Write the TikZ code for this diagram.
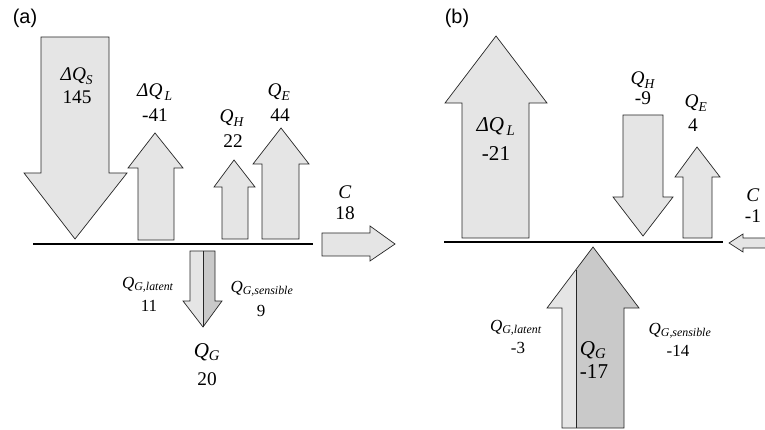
\documentclass[tikz,border=0pt]{standalone}
\usepackage{fontspec}
\setmainfont{Liberation Serif}
\newfontfamily\panelfont{Liberation Sans}
\newcommand\fluxsym[2]{\textit{#1}\textsubscript{\textit{#2}}}

\begin{document}
\begin{tikzpicture}[x=0.03cm, y=-0.03cm,
    flux/.style={draw=black!85, line width=0.6pt, fill=black!10},
    surface/.style={line width=1.6pt},
    lbl/.style={anchor=base, inner sep=0pt, font=\fontsize{16.5}{16.5}\selectfont},
    lblbig/.style={lbl, font=\fontsize{18}{18}\selectfont},
    lblsmall/.style={lbl, font=\fontsize{14.5}{14.5}\selectfont},
    panel/.style={inner sep=0pt, font=\panelfont\fontsize{17}{17}\selectfont}]
  \useasboundingbox (0,0) rectangle (765,430);
  \clip (0,0) rectangle (765,430);

  % ---------------- panel (a) ----------------
  \node[panel] (pa) at (25,18) {(a)};

  % storage, latent, sensible, evaporation fluxes
  \draw[flux] (41,37)--(109,37)--(109,173)--(127,173)--(75,239)--(24,173)--(41,173)--cycle;
  \draw[flux] (138,240)--(174,240)--(174,168)--(183,168)--(155,133)--(128,168)--(138,168)--cycle;
  \draw[flux] (222,239)--(248,239)--(248,187)--(255,187)--(234,160)--(214,187)--(222,187)--cycle;
  \draw[flux] (262,239)--(299,239)--(299,164)--(309,164)--(281,128)--(253,164)--(262,164)--cycle;
  \draw[surface] (33,244) -- (313,244);
  % advection
  \draw[flux] (322,233)--(370,233)--(370,226)--(395,244)--(370,261)--(370,256)--(322,256)--cycle;
  % ground flux, latent and sensible parts
  \fill[black!10] (190,251)--(203,251)--(203,327)--(183,301)--(190,301)--cycle;
  \fill[black!21] (203,251)--(215,251)--(215,301)--(222,301)--(203,327)--cycle;
  \draw[black!85, line width=0.6pt] (190,251)--(215,251)--(215,301)--(222,301)--(203,327)--(183,301)--(190,301)--cycle;
  \draw[black!85, line width=0.6pt] (203,251) -- (203,327);

  \node[lbl] (dQSa) at (77,81) {\fluxsym{ΔQ}{S}};
  \node[lbl] (dQSa-v) at (77,104) {145};
  \node[lbl] (dQLa) at (155,97) {\fluxsym{ΔQ}{\,L}};
  \node[lbl] (dQLa-v) at (155,122) {-41};
  \node[lbl] (QHa) at (232,123) {\fluxsym{Q}{H}};
  \node[lbl] (QHa-v) at (233,148) {22};
  \node[lbl] (QEa) at (279,97) {\fluxsym{Q}{E}};
  \node[lbl] (QEa-v) at (280,122) {44};
  \node[lbl] (Ca) at (345,199) {\textit{C}};
  \node[lbl] (Ca-v) at (345,220) {18};
  \node[lblsmall] (QGla) at (148,288) {\fluxsym{Q}{G,latent}};
  \node[lblsmall] (QGla-v) at (149,311) {11};
  \node[lblsmall] (QGsa) at (262,292) {\fluxsym{Q}{G,sensible}};
  \node[lblsmall] (QGsa-v) at (261,316) {9};
  \node[lblbig] (QGa) at (207,357) {\fluxsym{Q}{G}};
  \node[lbl] (QGa-v) at (207,385) {20};

  % ---------------- panel (b) ----------------
  \node[panel] (pb) at (457,18) {(b)};

  \draw[flux] (462,238)--(529,238)--(529,103)--(547,103)--(496,36)--(445,103)--(462,103)--cycle;
  \draw[flux] (623,115)--(663,115)--(663,197)--(673,197)--(643,236)--(613,197)--(623,197)--cycle;
  \draw[flux] (683,238)--(712,238)--(712,177)--(720,177)--(697,147)--(675,177)--(683,177)--cycle;
  \draw[surface] (444,242) -- (723,242);
  % advection, leaving the frame
  \draw[flux] (729,243)--(743,234)--(743,238)--(790,238)--(790,248)--(743,248)--(743,252)--cycle;
  % ground flux, latent and sensible parts
  \fill[black!10] (562,428)--(576,428)--(576,269.6)--(547,308)--(562,308)--cycle;
  \fill[black!21] (576,428)--(624,428)--(624,308)--(639,308)--(593,247)--(576,269.6)--cycle;
  \draw[black!85, line width=0.6pt] (562,428)--(624,428)--(624,308)--(639,308)--(593,247)--(547,308)--(562,308)--cycle;
  \draw[black!85, line width=0.6pt] (576,428) -- (576,269.6);

  \node[lblbig] (dQLb) at (496,132) {\fluxsym{ΔQ}{\,L}};
  \node[lblbig] (dQLb-v) at (496,161) {-21};
  \node[lbl] (QHb) at (643,85) {\fluxsym{Q}{H}};
  \node[lbl] (QHb-v) at (643,105) {-9};
  \node[lbl] (QEb) at (696,108) {\fluxsym{Q}{E}};
  \node[lbl] (QEb-v) at (693,132) {4};
  \node[lbl] (Cb) at (753,202) {\textit{C}};
  \node[lbl] (Cb-v) at (753,223) {-1};
  \node[lblsmall] (QGlb) at (516,331) {\fluxsym{Q}{G,latent}};
  \node[lblsmall] (QGlb-v) at (518,353) {-3};
  \node[lblsmall] (QGsb) at (680,334) {\fluxsym{Q}{G,sensible}};
  \node[lblsmall] (QGsb-v) at (678,356) {-14};
  \node[lblbig] (QGb) at (593,355) {\fluxsym{Q}{G}};
  \node[lblbig] (QGb-v) at (594,378) {-17};
\end{tikzpicture}
\end{document}
